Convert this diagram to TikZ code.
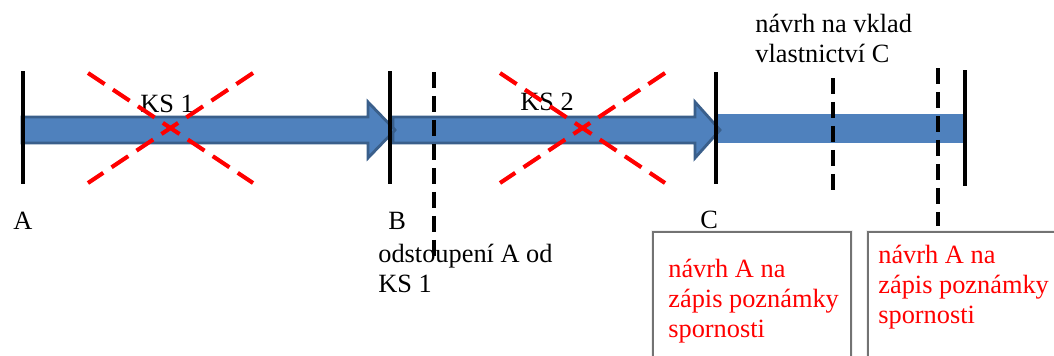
\documentclass[tikz,border=0pt]{standalone}
\usepackage{fontspec}
\setmainfont{Liberation Serif}
\usetikzlibrary{positioning}

\definecolor{barblue}{HTML}{4F81BD}
\definecolor{bardark}{HTML}{3A5F8B}

\tikzset{
  tick/.style={line width=1.8pt,black},
  dtick/.style={line width=1.8pt,black,dash pattern=on 0.32cm off 0.16cm},
  cross/.style={line width=2.3pt,red,dash pattern=on 0.4cm off 0.2cm},
  blkarrow/.style={fill=barblue,draw=bardark,line width=1.6pt,line join=miter},
  infobox/.style={draw=gray!90!black,line width=0.9pt,fill=white},
  lbl/.style={anchor=base west,inner sep=0pt,align=left,font=\fontsize{15}{17}\selectfont},
}

\begin{document}
\begin{tikzpicture}[x=0.02cm,y=-0.02cm]
\useasboundingbox (0,0) rectangle (1054,355);
\clip (0,0) rectangle (1054,355);

% bar after C
\fill[barblue] (716,114) rectangle (965,143);
% arrow 2
\draw[blkarrow] (393,117) -- (695,117) -- (695,102) -- (720,130) -- (695,158) -- (695,143) -- (393,143) -- cycle;
% arrow 1
\draw[blkarrow] (22,117) -- (368,117) -- (368,102) -- (395,130) -- (368,158) -- (368,143) -- (22,143) -- cycle;

% ticks
\draw[tick] (23,71) -- (23,184);
\draw[tick] (390,71) -- (390,184);
\draw[tick] (716,72) -- (716,184);
\draw[tick] (965,70) -- (965,186);
\draw[dtick] (434,72) -- (434,258);
\draw[dtick] (833,78) -- (833,194);
\draw[dtick] (938,68) -- (938,226);

% boxes
\draw[gray!12,line width=2.5pt] (653,232) rectangle (851,370);
\draw[gray!12,line width=2.5pt] (868,232) rectangle (1070,370);
\draw[infobox] (653,232) rectangle (851,370);
\draw[infobox] (868,232) rectangle (1070,370);
\node[lbl,text=red] (zapis1) at (668,337) {návrh A na\\zápis poznámky\\spornosti};
\node[lbl,text=red] (zapis2) at (878,323) {návrh A na\\zápis poznámky\\spornosti};

% labels (base = last line)
\node[lbl] (ks1) at (140,112) {KS 1};
\node[lbl] (ks2) at (520,110) {KS 2};
\node[lbl] (a) at (13,229) {A};
\node[lbl] (b) at (388,229) {B};
\node[lbl] (c) at (700,228) {C};
\node[lbl] (odst) at (378,292) {odstoupení A od\\KS 1};
\node[lbl] (vklad) at (755,62) {návrh na vklad\\vlastnictví C};

% crossed out
\draw[cross] (88,73) -- (253,183);
\draw[cross] (253,73) -- (88,183);
\draw[cross] (500,73) -- (665,183);
\draw[cross] (665,73) -- (500,183);
\end{tikzpicture}
\end{document}
